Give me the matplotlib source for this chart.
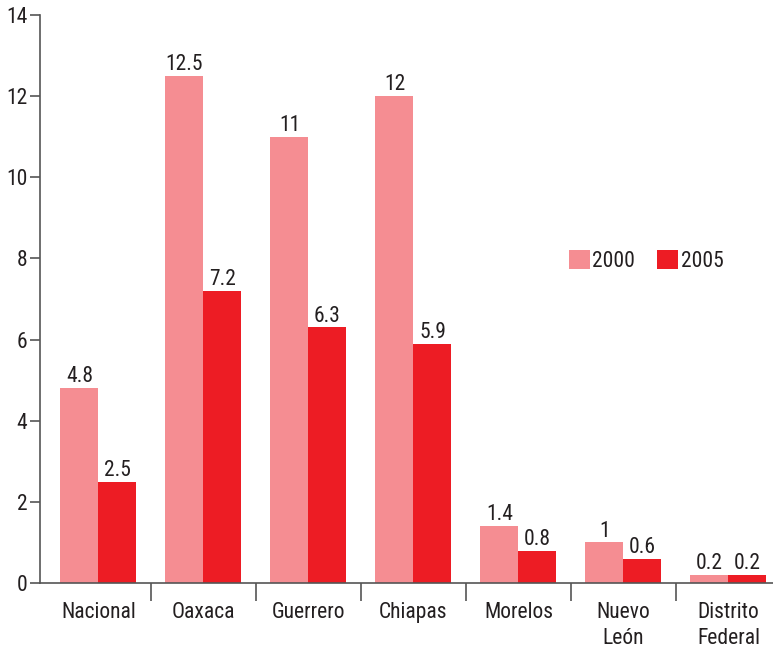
import matplotlib
matplotlib.use("Agg")
import matplotlib.pyplot as plt
import numpy as np

plt.rcParams["font.family"] = ["Roboto Condensed", "DejaVu Sans"]

categories = ["Nacional", "Oaxaca", "Guerrero", "Chiapas", "Morelos", "Nuevo\nLeón", "Distrito\nFederal"]
v2000 = [4.8, 12.5, 11, 12, 1.4, 1, 0.2]
v2005 = [2.5, 7.2, 6.3, 5.9, 0.8, 0.6, 0.2]
lab2000 = ["4.8", "12.5", "11", "12", "1.4", "1", "0.2"]
lab2005 = ["2.5", "7.2", "6.3", "5.9", "0.8", "0.6", "0.2"]

c2000 = "#f58d92"
c2005 = "#ed1c24"
txt = "#231f20"
spine = "#555555"

fig = plt.figure(figsize=(7.73, 6.49), dpi=100)
ax = fig.add_axes([40 / 773, 66 / 649, 733 / 773, 568 / 649])

x = np.arange(len(categories))
w = 0.362
b1 = ax.bar(x - w / 2, v2000, w, color=c2000, label="2000")
b2 = ax.bar(x + w / 2, v2005, w, color=c2005, label="2005")
for bars, labs in ((b1, lab2000), (b2, lab2005)):
    for r, t in zip(bars, labs):
        ax.text(r.get_x() + r.get_width() / 2, r.get_height() + 0.02, t,
                ha="center", va="bottom", fontsize=15.5, color=txt)

ax.set_ylim(0, 14)
ax.set_xlim(-0.557, 6.424)
ax.set_yticks(range(0, 15, 2))
ax.set_xticks(x)
ax.set_xticklabels(categories, linespacing=1.3)
ax.set_xticks(x[:-1] + 0.5, minor=True)

for s in ("top", "right"):
    ax.spines[s].set_visible(False)
for s in ("left", "bottom"):
    ax.spines[s].set_color(spine)
    ax.spines[s].set_linewidth(1.2)

ax.tick_params(axis="y", length=7, width=1.2, color=spine, pad=2, labelsize=15.5, labelcolor=txt)
ax.tick_params(axis="x", which="major", length=0, pad=14, labelsize=15.5, labelcolor=txt)
ax.tick_params(axis="x", which="minor", length=13, width=1.2, color=spine)

ax.legend(loc="upper left", bbox_to_anchor=(0.695, 0.62), ncol=2, frameon=False,
          fontsize=15.5, handlelength=1.0, handleheight=1.0, handletextpad=0.1,
          columnspacing=1.0, labelcolor=txt)

fig.savefig("out.png", dpi=100)
